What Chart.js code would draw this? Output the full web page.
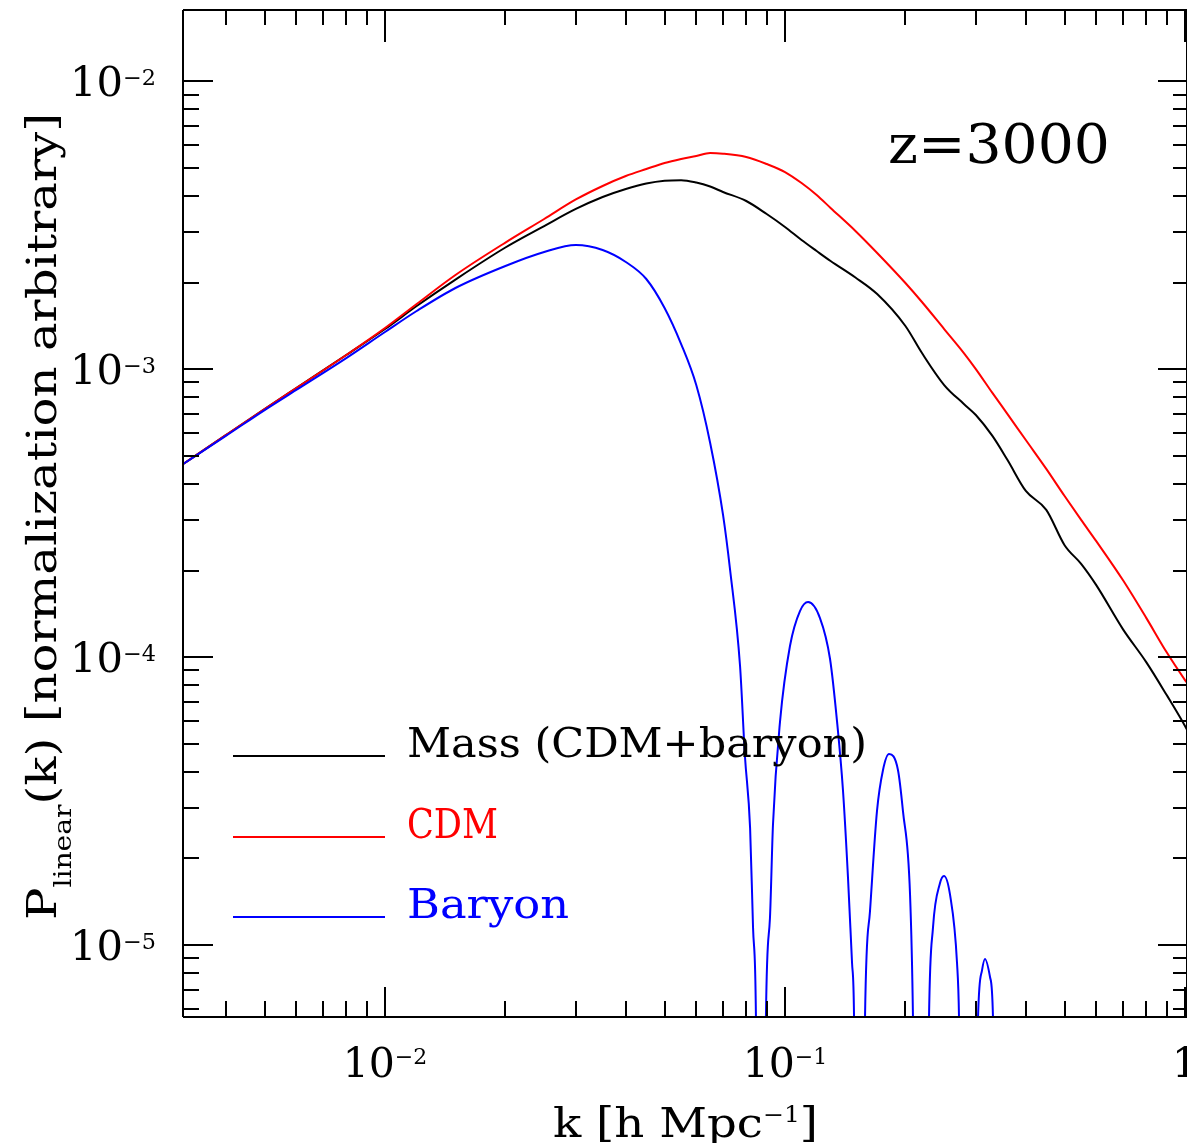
<!DOCTYPE html>
<html>
<head>
<meta charset="utf-8">
<script src="https://cdn.jsdelivr.net/npm/chart.js@4.4.1/dist/chart.umd.min.js"></script>
<style>
  html, body { margin: 0; padding: 0; background: #fff; overflow: hidden; }
</style>
</head>
<body>
<canvas id="pk-chart" width="1187" height="1143"></canvas>
<script>
// k grid shared by the mass and CDM curves [h/Mpc]
const kGrid = [0.0031, 0.004, 0.005, 0.006, 0.008, 0.01, 0.012, 0.015, 0.02, 0.025,
  0.03, 0.035, 0.04, 0.045, 0.05, 0.055, 0.06, 0.065, 0.07, 0.08, 0.09, 0.1, 0.11,
  0.12, 0.13, 0.15, 0.17, 0.2, 0.22, 0.25, 0.28, 0.3, 0.33, 0.36, 0.4, 0.45, 0.5,
  0.55, 0.6, 0.7, 0.8, 0.9, 1.0, 1.012];

// Mass (CDM+baryon)
const pMass = [4.65e-4, 5.91e-4, 7.28e-4, 8.61e-4, 1.121e-3, 1.380e-3, 1.659e-3, 2.050e-3,
  2.649e-3, 3.145e-3, 3.605e-3, 3.967e-3, 4.230e-3, 4.420e-3, 4.520e-3, 4.540e-3,
  4.456e-3, 4.315e-3, 4.130e-3, 3.842e-3, 3.462e-3, 3.121e-3, 2.812e-3, 2.575e-3,
  2.378e-3, 2.084e-3, 1.826e-3, 1.414e-3, 1.139e-3, 8.82e-4, 7.58e-4, 6.94e-4,
  5.87e-4, 4.84e-4, 3.78e-4, 3.25e-4, 2.45e-4, 2.11e-4, 1.78e-4, 1.25e-4, 9.62e-5,
  7.39e-5, 5.77e-5, 5.59e-5];

// CDM only
const pCDM = [4.65e-4, 5.91e-4, 7.28e-4, 8.61e-4, 1.121e-3, 1.391e-3, 1.686e-3, 2.126e-3,
  2.756e-3, 3.327e-3, 3.889e-3, 4.333e-3, 4.692e-3, 4.962e-3, 5.207e-3, 5.377e-3,
  5.507e-3, 5.640e-3, 5.610e-3, 5.463e-3, 5.165e-3, 4.845e-3, 4.437e-3, 4.031e-3,
  3.634e-3, 3.023e-3, 2.535e-3, 1.994e-3, 1.713e-3, 1.380e-3, 1.139e-3, 1.002e-3,
  8.28e-4, 6.99e-4, 5.68e-4, 4.51e-4, 3.63e-4, 3.00e-4, 2.53e-4, 1.85e-4, 1.37e-4,
  1.04e-4, 8.33e-5, 8.14e-5];

// baryon curve has its own k sampling because of the oscillations
const kBaryon = [0.0031, 0.004, 0.005, 0.006, 0.008, 0.01, 0.012, 0.015, 0.02, 0.025,
  0.03, 0.035, 0.04, 0.045, 0.05, 0.055, 0.06, 0.065, 0.07, 0.0729, 0.0772, 0.0794,
  0.0818, 0.0832, 0.0846, 0.0871, 0.0896, 0.0917, 0.0933, 0.0972, 0.1029, 0.1090,
  0.1142, 0.1223, 0.1296, 0.1349, 0.1396, 0.1437, 0.1471, 0.1488, 0.1531, 0.1585,
  0.1631, 0.1698, 0.1758, 0.1820, 0.1916, 0.1972, 0.2054, 0.2089, 0.2188, 0.2291,
  0.2344, 0.2440, 0.2497, 0.2585, 0.2692, 0.2723, 0.2868, 0.3038, 0.3109, 0.3162,
  0.3255, 0.3311, 0.3447];
const pBaryon = [4.65e-4, 5.87e-4, 7.22e-4, 8.48e-4, 1.094e-3, 1.348e-3, 1.594e-3, 1.916e-3,
  2.285e-3, 2.555e-3, 2.702e-3, 2.596e-3, 2.359e-3, 2.059e-3, 1.633e-3, 1.224e-3,
  8.82e-4, 5.55e-4, 3.12e-4, 2.01e-4, 9.32e-5, 4.54e-5, 2.55e-5, 1.15e-5, 5.6e-6,
  1e-8, 5.6e-6, 1.24e-5, 2.61e-5, 6.00e-5, 1.094e-4, 1.447e-4, 1.555e-4, 1.368e-4,
  9.86e-5, 6.00e-5, 3.46e-5, 1.72e-5, 8.67e-6, 5.6e-6, 1e-8, 5.6e-6, 1.31e-5,
  2.92e-5, 4.06e-5, 4.61e-5, 4.06e-5, 2.92e-5, 1.50e-5, 5.6e-6, 1e-8, 5.6e-6,
  1.15e-5, 1.64e-5, 1.74e-5, 1.50e-5, 8.67e-6, 5.6e-6, 1e-8, 5.6e-6, 8.19e-6,
  8.95e-6, 7.75e-6, 5.6e-6, 1e-8];

const seriesNames = ['Mass (CDM+baryon)', 'CDM', 'Baryon'];
const seriesColors = ['#000000', '#ff0000', '#0000ff'];

// axis ranges and tick labels
const kMin = 0.003126, kMax = 1.0116;
const pMin = 5.63e-6, pMax = 0.0177;
const xDecades = [0.001, 0.01, 0.1, 1];
const yDecades = [1e-6, 1e-5, 1e-4, 1e-3, 1e-2];
const xTickValues = [0.01, 0.1, 1];
const xTickLabels = [['10', '\u22122'], ['10', '\u22121'], ['1', '']];
const yTickValues = [1e-2, 1e-3, 1e-4, 1e-5];
const yTickLabels = [['10', '\u22122'], ['10', '\u22123'], ['10', '\u22124'], ['10', '\u22125']];
const redshiftLabel = 'z=3000';

const FONT = '"DejaVu Serif", "Liberation Serif", serif';

function toPoints(ks, ps) {
  return ks.map((k, i) => ({ x: k, y: ps[i] }));
}

// draws a run of text pieces [text, size, rise], optionally stretched to a width
function richText(ctx, parts, x, y, align, fitWidth) {
  let w = 0;
  const widths = parts.map(p => {
    ctx.font = p[1] + 'px ' + FONT;
    const m = ctx.measureText(p[0]).width;
    w += m;
    return m;
  });
  const sx = fitWidth ? fitWidth / w : 1;
  ctx.save();
  ctx.translate(x, y);
  ctx.scale(sx, 1);
  let cx = align === 'center' ? -w / 2 : (align === 'right' ? -w : 0);
  ctx.textAlign = 'left';
  ctx.textBaseline = 'alphabetic';
  parts.forEach((p, i) => {
    ctx.font = p[1] + 'px ' + FONT;
    ctx.fillText(p[0], cx, -p[2]);
    cx += widths[i];
  });
  ctx.restore();
}

// box, inward ticks on all four sides, labels and legend
const framePlugin = {
  id: 'frame',
  afterDatasetsDraw(chart) {
    const ctx = chart.ctx;
    const a = chart.chartArea;
    const xs = chart.scales.x, ys = chart.scales.y;

    ctx.save();
    ctx.strokeStyle = '#000';
    ctx.lineWidth = 2;
    ctx.beginPath();
    ctx.moveTo(a.left, a.top); ctx.lineTo(a.right, a.top);
    ctx.moveTo(a.left, a.top); ctx.lineTo(a.left, a.bottom);
    ctx.moveTo(a.left, a.bottom); ctx.lineTo(a.right, a.bottom);
    ctx.moveTo(a.right, a.top); ctx.lineTo(a.right, a.bottom);
    ctx.stroke();

    ctx.beginPath();
    xDecades.forEach(d => {
      for (let m = 1; m <= 9; m++) {
        const v = d * m;
        if (v < kMin || v > kMax) continue;
        const px = Math.round(xs.getPixelForValue(v));
        ctx.moveTo(px, a.bottom); ctx.lineTo(px, a.bottom - (m === 1 ? 30 : 16));
        ctx.moveTo(px, a.top); ctx.lineTo(px, a.top + (m === 1 ? 32 : 15));
      }
    });
    yDecades.forEach(d => {
      for (let m = 1; m <= 9; m++) {
        const v = d * m;
        if (v < pMin || v > pMax) continue;
        const py = Math.round(ys.getPixelForValue(v));
        ctx.moveTo(a.left, py); ctx.lineTo(a.left + (m === 1 ? 30 : 16), py);
        ctx.moveTo(a.right, py); ctx.lineTo(a.right - (m === 1 ? 29 : 14), py);
      }
    });
    ctx.stroke();

    ctx.fillStyle = '#000';
    // tick labels
    xTickValues.forEach((v, i) => {
      const px = xs.getPixelForValue(v);
      const lab = xTickLabels[i];
      richText(ctx, [[lab[0], 41, 0], [lab[1], 22, 13]], px, a.bottom + 60, 'center');
    });
    yTickValues.forEach((v, i) => {
      const py = ys.getPixelForValue(v);
      const lab = yTickLabels[i];
      richText(ctx, [[lab[0], 41, 0], [lab[1], 22, 11]], 156, py + 15, 'right', 86);
    });

    // axis titles
    richText(ctx, [['k [h Mpc', 41, 0], ['\u22121', 22, 15], [']', 41, 0]], 553, 1137, 'left', 265);
    ctx.save();
    ctx.translate(56, 920);
    ctx.rotate(-Math.PI / 2);
    richText(ctx, [['P', 41, 0], ['linear', 24, -15], ['(k) [normalization arbitrary]', 41, 0]], 0, 0, 'left', 807);
    ctx.restore();

    // redshift label
    richText(ctx, [[redshiftLabel, 55, 0]], 888, 163, 'left', 222);

    // legend
    const legendBase = [756, 837, 917];
    const legendWidths = [460, 91, 162];
    seriesNames.forEach((name, i) => {
      ctx.strokeStyle = seriesColors[i];
      ctx.lineWidth = 2;
      ctx.beginPath();
      ctx.moveTo(233, legendBase[i]);
      ctx.lineTo(385, legendBase[i]);
      ctx.stroke();
      ctx.fillStyle = seriesColors[i];
      richText(ctx, [[name, 41, 0]], 407, legendBase[i] + 1, 'left', legendWidths[i]);
    });
    ctx.restore();
  }
};

const ctx = document.getElementById('pk-chart').getContext('2d');
const pkChart = new Chart(ctx, {
  type: 'line',
  data: {
    datasets: [
      // lower order is drawn on top: baryon over CDM over mass, as in the original
      { label: seriesNames[0], data: toPoints(kGrid, pMass), borderColor: seriesColors[0], order: 2 },
      { label: seriesNames[1], data: toPoints(kGrid, pCDM), borderColor: seriesColors[1], order: 1 },
      { label: seriesNames[2], data: toPoints(kBaryon, pBaryon), borderColor: seriesColors[2], order: 0 }
    ]
  },
  options: {
    responsive: false,
    animation: false,
    events: [],
    layout: { padding: { left: 183, top: 10, right: 0, bottom: 126 } },
    elements: {
      point: { radius: 0 },
      line: { borderWidth: 2, fill: false, cubicInterpolationMode: 'monotone' }
    },
    plugins: { legend: { display: false }, tooltip: { enabled: false }, title: { display: false } },
    scales: {
      x: { type: 'logarithmic', min: kMin, max: kMax, display: false },
      y: { type: 'logarithmic', min: pMin, max: pMax, display: false }
    }
  },
  plugins: [framePlugin]
});
</script>
</body>
</html>
